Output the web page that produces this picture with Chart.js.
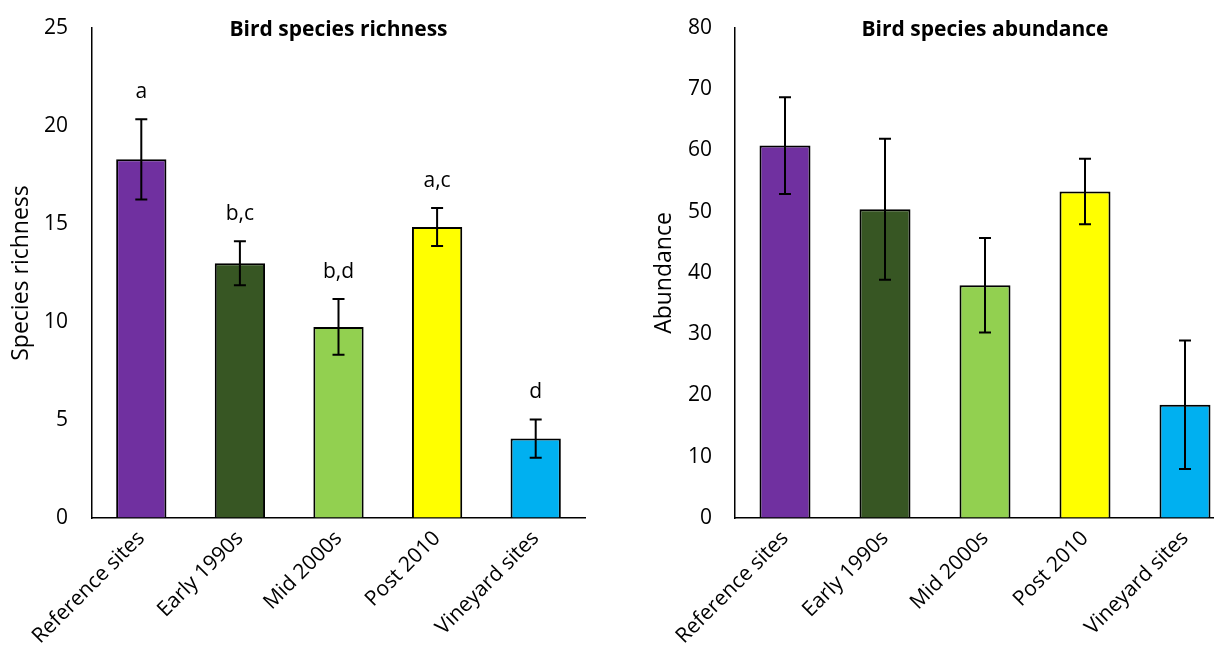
<!DOCTYPE html>
<html>
<head>
<meta charset="utf-8">
<script src="https://cdn.jsdelivr.net/npm/chart.js@4"></script>
<style>
    html, body { margin: 0; padding: 0; background: #fff; overflow: hidden; width: 1214px; height: 650px; }
    #left { position: absolute; left: 0; top: 0; }
    #right { position: absolute; left: 620px; top: 0; }
</style>
</head>
<body>
<canvas id="left" width="600" height="650"></canvas>
<canvas id="right" width="615" height="650"></canvas>
<script>
const sites = ['Reference sites', 'Early 1990s', 'Mid 2000s', 'Post 2010', 'Vineyard sites'];
const barColors = ['#7030A0', '#375623', '#92D050', '#FFFF00', '#00B0F0'];

const richness = [18.3, 13.0, 9.75, 14.85, 4.05];
const richnessErr = [2.05, 1.12, 1.42, 0.97, 0.98];
const richnessLetters = ['a', 'b,c', 'b,d', 'a,c', 'd'];
const richnessTicks = [0, 5, 10, 15, 20, 25];

const abundance = [60.8, 50.4, 38.0, 53.3, 18.5];
const abundanceErr = [7.9, 11.5, 7.7, 5.35, 10.5];
const abundanceTicks = [0, 10, 20, 30, 40, 50, 60, 70, 80];

const FONT = '"Open Sans", Lato, sans-serif';

const errorBars = {
    id: 'errorBars',
    afterDatasetsDraw(chart, args, opts) {
        const ctx = chart.ctx;
        const meta = chart.getDatasetMeta(0);
        const y = chart.scales.y;
        ctx.save();
        ctx.strokeStyle = '#000';
        ctx.lineWidth = 2;
        meta.data.forEach((bar, i) => {
            const v = opts.values[i], e = opts.errors[i];
            const top = y.getPixelForValue(v + e);
            const bot = y.getPixelForValue(v - e);
            ctx.beginPath();
            ctx.moveTo(bar.x, top); ctx.lineTo(bar.x, bot);
            ctx.moveTo(bar.x - 6, top); ctx.lineTo(bar.x + 6, top);
            ctx.moveTo(bar.x - 6, bot); ctx.lineTo(bar.x + 6, bot);
            ctx.stroke();
            if (opts.letters) {
                ctx.fillStyle = '#000';
                ctx.font = '21px ' + FONT;
                ctx.textAlign = 'center';
                ctx.textBaseline = 'middle';
                ctx.fillText(opts.letters[i], bar.x, top - 27);
            }
        });
        ctx.restore();
    }
};

const plotTitle = {
    id: 'plotTitle',
    afterDraw(chart, args, opts) {
        const ctx = chart.ctx;
        const a = chart.chartArea;
        ctx.save();
        ctx.fillStyle = '#000';
        ctx.font = 'bold 21px ' + FONT;
        ctx.textAlign = 'center';
        ctx.textBaseline = 'middle';
        ctx.fillText(opts.text, (a.left + a.right) / 2, 30);
        ctx.restore();
    }
};

function makeChart(id, cfg) {
    const el = document.getElementById(id);
    return new Chart(el, {
        type: 'bar',
        data: {
            labels: sites,
            datasets: [{
                data: cfg.values,
                backgroundColor: barColors,
                borderColor: '#000',
                borderWidth: 2,
                barPercentage: 0.51,
                categoryPercentage: 1.0,
            }]
        },
        options: {
            responsive: false,
            animation: false,
            layout: { padding: { top: 28, right: cfg.padRight, left: 0, bottom: 0 } },
            plugins: {
                legend: { display: false },
                tooltip: { enabled: false },
                errorBars: { values: cfg.values, errors: cfg.errors, letters: cfg.letters },
                plotTitle: { text: cfg.title },
            },
            scales: {
                x: {
                    grid: { display: true, drawOnChartArea: false, drawTicks: false },
                    border: { color: '#000', width: 1.5 },
                    ticks: {
                        color: '#000', font: { family: FONT, size: 21 },
                        maxRotation: 45, minRotation: 45, autoSkip: false, padding: 8,
                    },
                    afterFit(scale) { scale.height = 132; scale.paddingTop = 0; scale.paddingBottom = 0; },
                },
                y: {
                    min: 0, max: cfg.ticks[cfg.ticks.length - 1],
                    afterBuildTicks(scale) { scale.ticks = cfg.ticks.map(v => ({ value: v })); },
                    grid: { display: true, drawOnChartArea: false, drawTicks: false },
                    border: { color: '#000', width: 1.5 },
                    ticks: { color: '#000', font: { family: FONT, size: 21 }, padding: cfg.tickPad },
                    title: {
                        display: true, text: cfg.axisTitle, color: '#000',
                        font: { family: FONT, size: 23 }, padding: { top: cfg.titlePad, bottom: 0 },
                    },
                    afterFit(scale) { scale.width = cfg.axisWidth; scale.paddingTop = 0; scale.paddingBottom = 0; },
                }
            }
        },
        plugins: [errorBars, plotTitle]
    });
}

makeChart('left', {
    values: richness, errors: richnessErr, letters: richnessLetters, ticks: richnessTicks,
    title: 'Bird species richness', axisTitle: 'Species richness',
    axisWidth: 92, tickPad: 24, titlePad: 8, padRight: 15,
});

makeChart('right', {
    values: abundance, errors: abundanceErr, letters: null, ticks: abundanceTicks,
    title: 'Bird species abundance', axisTitle: 'Abundance',
    axisWidth: 115, tickPad: 23, titlePad: 31, padRight: 0,
});
</script>
</body>
</html>
